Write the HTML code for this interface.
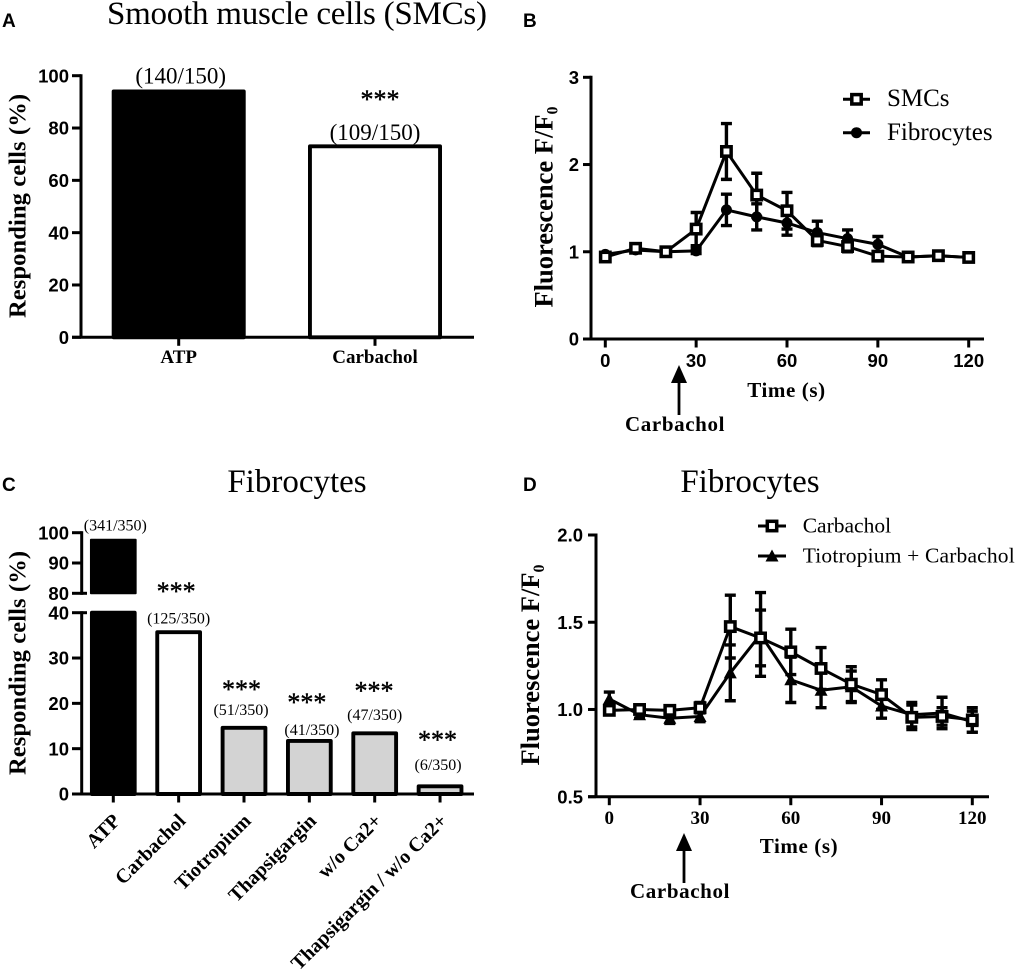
<!DOCTYPE html>
<html lang="en">
<head>
<meta charset="utf-8">
<title>Responding cells and fluorescence in SMCs and fibrocytes</title>
<style>
html,body{margin:0;padding:0;background:#fff;width:1017px;height:970px;overflow:hidden}
svg{display:block}
text{fill:#000}
.serif{font-family:"Liberation Serif",serif}
.sans{font-family:"Liberation Sans",sans-serif}
.ttl{font-family:"Liberation Serif",serif;font-size:33px}
.ylab{font-family:"Liberation Serif",serif;font-weight:bold;font-size:24.5px}
.ylabf{font-family:"Liberation Serif",serif;font-weight:bold;font-size:26.5px}
.xlab{font-family:"Liberation Serif",serif;font-weight:bold;font-size:21px;letter-spacing:.6px}
.plabel{font-family:"Liberation Sans",sans-serif;font-weight:bold;font-size:19px}
.leg{font-family:"Liberation Serif",serif}
</style>
</head>
<body>
<svg id="figure" width="1017" height="970" viewBox="0 0 1017 970" xmlns="http://www.w3.org/2000/svg">
  <g id="static-text">
    <text class="plabel" x="2" y="27">A</text>
    <text class="plabel" x="523" y="27">B</text>
    <text class="plabel" x="2" y="491">C</text>
    <text class="plabel" x="523" y="491">D</text>

    <text class="ttl" x="297" y="24" text-anchor="middle" textLength="380">Smooth muscle cells (SMCs)</text>
    <text class="ttl" x="297" y="492" text-anchor="middle">Fibrocytes</text>
    <text class="ttl" x="750" y="492" text-anchor="middle">Fibrocytes</text>

    <text class="ylab" transform="translate(25.5,206) rotate(-90)" text-anchor="middle" textLength="224">Responding cells (%)</text>
    <text class="ylab" transform="translate(25.5,663) rotate(-90)" text-anchor="middle" textLength="224">Responding cells (%)</text>
    <text class="ylabf" transform="translate(552.5,207) rotate(-90)" text-anchor="middle">Fluorescence F/F<tspan font-size="16" dy="5">0</tspan></text>
    <text class="ylabf" transform="translate(539,665) rotate(-90)" text-anchor="middle">Fluorescence F/F<tspan font-size="16" dy="5">0</tspan></text>

    <text class="xlab" x="786.5" y="397" text-anchor="middle">Time (s)</text>
    <text class="xlab" x="799" y="853" text-anchor="middle">Time (s)</text>

    <g>
      <line x1="679" y1="380" x2="679" y2="415" stroke="#000" stroke-width="2.8"></line>
      <polygon points="679,365 671,383 687,383" fill="#000"></polygon>
      <text class="xlab" x="675" y="431" text-anchor="middle" textLength="100">Carbachol</text>
    </g>
    <g>
      <line x1="684" y1="848" x2="684" y2="883" stroke="#000" stroke-width="2.8"></line>
      <polygon points="684,833 676,851 692,851" fill="#000"></polygon>
      <text class="xlab" x="680" y="898" text-anchor="middle" textLength="100">Carbachol</text>
    </g>
  </g>
  <g id="panelA"></g>
  <g id="panelB"></g>
  <g id="panelC"></g>
  <g id="panelD"></g>
</svg>
<script>
// ---- Panel A data ----
const aCategories = ['ATP', 'Carbachol'];
const aValues = [94, 73];
const aCounts = ['(140/150)', '(109/150)'];
const aStars = ['', '***'];
const aTicks = [0, 20, 40, 60, 80, 100];

// ---- Panel B data ----
const bTimes = [0, 10, 20, 30, 40, 50, 60, 70, 80, 90, 100, 110, 120];
const bTicksX = [0, 30, 60, 90, 120];
const bTicksY = [0, 1, 2, 3];
const bSmcMean = [0.94, 1.04, 1.0, 1.26, 2.15, 1.65, 1.47, 1.13, 1.06, 0.95, 0.94, 0.955, 0.935];
const bSmcErr = [0.03, 0.03, 0.02, 0.19, 0.32, 0.25, 0.21, 0.06, 0.06, 0.05, 0.02, 0.03, 0.03];
const bFibMean = [0.97, 1.02, 1.0, 1.01, 1.48, 1.40, 1.33, 1.22, 1.15, 1.085, 0.94, 0.955, 0.935];
const bFibErr = [0.02, 0.02, 0.02, 0.03, 0.18, 0.15, 0.14, 0.13, 0.10, 0.09, 0.02, 0.02, 0.02];

// ---- Panel C data ----
const cCategories = ['ATP', 'Carbachol', 'Tiotropium', 'Thapsigargin', 'w/o Ca2+', 'Thapsigargin / w/o Ca2+'];
const cValues = [98, 35.7, 14.6, 11.7, 13.4, 1.7];
const cCounts = ['(341/350)', '(125/350)', '(51/350)', '(41/350)', '(47/350)', '(6/350)'];
const cTicksLower = [0, 10, 20, 30, 40];
const cTicksUpper = [80, 90, 100];

// ---- Panel D data ----
const dTimes = [0, 10, 20, 30, 40, 50, 60, 70, 80, 90, 100, 110, 120];
const dTicksX = [0, 30, 60, 90, 120];
const dTicksY = [0.5, 1.0, 1.5, 2.0];
const dCarbMean = [0.995, 1.0, 0.995, 1.01, 1.475, 1.41, 1.33, 1.235, 1.145, 1.085, 0.955, 0.96, 0.94];
const dCarbErr = [0.02, 0.02, 0.02, 0.03, 0.18, 0.16, 0.13, 0.12, 0.10, 0.085, 0.07, 0.05, 0.07];
const dTioMean = [1.06, 0.97, 0.95, 0.96, 1.21, 1.43, 1.17, 1.11, 1.13, 1.02, 0.97, 0.98, 0.93];
const dTioErr = [0.04, 0.02, 0.03, 0.03, 0.16, 0.24, 0.13, 0.10, 0.09, 0.07, 0.07, 0.09, 0.06];

const NS = 'http://www.w3.org/2000/svg';
function svgEl(parent, tag, attrs, content) {
  const node = document.createElementNS(NS, tag);
  for (const k in attrs) node.setAttribute(k, attrs[k]);
  if (content !== undefined) node.textContent = content;
  parent.appendChild(node);
  return node;
}
function seg(parent, x1, y1, x2, y2, w) {
  return svgEl(parent, 'line', {x1: x1, y1: y1, x2: x2, y2: y2, stroke: '#000', 'stroke-width': w});
}
function drawMarker(parent, kind, x, y) {
  if (kind === 'square') {
    return svgEl(parent, 'rect', {x: x - 4.7, y: y - 4.7, width: 9.4, height: 9.4, fill: '#fff', stroke: '#000', 'stroke-width': 3.5});
  }
  if (kind === 'circle') {
    return svgEl(parent, 'circle', {cx: x, cy: y, r: 5.5, fill: '#000'});
  }
  return svgEl(parent, 'polygon', {points: (x) + ',' + (y - 6.5) + ' ' + (x - 6.5) + ',' + (y + 5.5) + ' ' + (x + 6.5) + ',' + (y + 5.5), fill: '#000'});
}
function linearScale(d0, d1, r0, r1) {
  return function (v) { return r0 + (v - d0) * (r1 - r0) / (d1 - d0); };
}

function drawSeries(parent, name, xs, means, errs, xFn, yFn, kind) {
  const group = svgEl(parent, 'g', {});
  
  
  const pts = xs.map(function (t, i) { return xFn(t) + ',' + yFn(means[i]); }).join(' ');
  const path = svgEl(group, 'polyline', {points: pts, fill: 'none', stroke: '#000', 'stroke-width': 3});
  
  
  xs.forEach(function (t, i) {
    const x = xFn(t);
    const top = yFn(means[i] + errs[i]);
    const bot = yFn(means[i] - errs[i]);
    const eb = svgEl(group, 'path', {d: 'M' + x + ' ' + top + 'V' + bot + 'M' + (x - 5.5) + ' ' + top + 'H' + (x + 5.5) + 'M' + (x - 5.5) + ' ' + bot + 'H' + (x + 5.5), fill: 'none', stroke: '#000', 'stroke-width': 3.4});
    
    
  });
  xs.forEach(function (t, i) {
    const m = drawMarker(group, kind, xFn(t), yFn(means[i]));
    
    
  });
}

function drawBars(parent, name, cats, vals, centers, width, yFn, fills, baseY) {
  cats.forEach(function (c, i) {
    const outerL = centers(i) - width / 2;
    const sw = 3.9;
    const top = yFn(vals[i]);
    const fill = fills[i];
    const bar = svgEl(parent, 'rect', {x: outerL + sw / 2, y: top, width: width - sw, height: baseY - top, fill: fill, stroke: '#000', 'stroke-width': sw, 'stroke-linejoin': 'round'});
    
    
  });
}

function tickLabel(parent, x, y, str, anchor, fam, size, extra) {
  const attrs = {x: x, y: y, 'text-anchor': anchor, 'font-family': fam, 'font-size': size, 'font-weight': 'bold'};
  for (const k in (extra || {})) attrs[k] = extra[k];
  return svgEl(parent, 'text', attrs, str);
}

const SANS = '"Liberation Sans", sans-serif';
const SERIF = '"Liberation Serif", serif';

/* ---------- Panel A ---------- */
(function () {
  const root = document.getElementById('panelA');
  const yA = linearScale(0, 100, 337.3, 75.7);
  const centers = function (i) { return 178.7 + i * 196.3; };
  const axisX = 81;
  const countLift = [8, 6.5];
  drawBars(root, 'panel-a', aCategories, aValues, centers, 134, yA, ['#000', '#fff'], yA(0));
  const xAxis = seg(root, 72, yA(0), 474, yA(0), 3);
  
  
  const yAxis = seg(root, axisX, yA(0) + 1, axisX, yA(100) - 1.5, 3);
  
  
  aTicks.forEach(function (t) {
    const tk = seg(root, 72, yA(t), axisX, yA(t), 3);
    
    
    const lb = tickLabel(root, 69, yA(t) + 6.6, String(t), 'end', SANS, 18.5);
    
    
  });
  aCategories.forEach(function (c, i) {
    const x = centers(i);
    const tk = seg(root, x, yA(0), x, yA(0) + 8.5, 3);
    
    
    const lb = tickLabel(root, x, 363, c, 'middle', SERIF, 19);
    
    
    const cnt = svgEl(root, 'text', {x: x + (i === 0 ? 2 : 0), y: yA(aValues[i]) - countLift[i], 'text-anchor': 'middle', 'font-family': SERIF, 'font-size': 23}, aCounts[i]);
    
    
    if (aStars[i]) {
      const st = svgEl(root, 'text', {x: x + 5, y: 108, 'text-anchor': 'middle', 'font-family': SERIF, 'font-size': 26, stroke: '#000', 'stroke-width': 0.4}, aStars[i]);
      
      
    }
  });
})();

/* ---------- line chart shared axes ---------- */
function drawLineAxes(root, name, xFn, yFn, ticksX, ticksY, axisX, x0, x1, yMin, yMax, yFmt, labelX, xLabelY, xFam, xSize, ySize) {
  const xAxis = seg(root, x0, yFn(yMin), x1, yFn(yMin), 3);
  
  
  const yAxis = seg(root, axisX, yFn(yMin) + 1, axisX, yFn(yMax) - 1.5, 3);
  
  
  ticksY.forEach(function (t) {
    const tk = seg(root, x0, yFn(t), axisX, yFn(t), 3);
    
    
    const lb = tickLabel(root, labelX, yFn(t) + 6.6, yFmt(t), 'end', SANS, ySize);
    
    
  });
  ticksX.forEach(function (t) {
    const x = xFn(t);
    const tk = seg(root, x, yFn(yMin), x, yFn(yMin) + 8.5, 3);
    
    
    const lb = tickLabel(root, x, xLabelY, String(t), 'middle', xFam, xSize);
    
    
  });
}

/* ---------- Panel B ---------- */
(function () {
  const root = document.getElementById('panelB');
  const xB = linearScale(0, 120, 605.3, 968.7);
  const yB = linearScale(0, 3, 339, 77.3);
  drawLineAxes(root, 'panel-b', xB, yB, bTicksX, bTicksY, 591, 583, 984, 0, 3, String, 579, 367, SANS, 18.5, 18.5);
  drawSeries(root, 'fibrocytes', bTimes, bFibMean, bFibErr, xB, yB, 'circle');
  drawSeries(root, 'smcs', bTimes, bSmcMean, bSmcErr, xB, yB, 'square');

  const legS = svgEl(root, 'g', {});
  
  
  seg(legS, 843, 99.3, 870, 99.3, 3);
  drawMarker(legS, 'square', 856.5, 99.3);
  svgEl(legS, 'text', {x: 887, y: 106, 'font-family': SERIF, 'font-size': 25}, 'SMCs');
  const legF = svgEl(root, 'g', {});
  
  
  seg(legF, 843, 132.7, 870, 132.7, 3);
  drawMarker(legF, 'circle', 856.5, 132.7);
  svgEl(legF, 'text', {x: 887, y: 140, 'font-family': SERIF, 'font-size': 25}, 'Fibrocytes');
})();

/* ---------- Panel C ---------- */
(function () {
  const root = document.getElementById('panelC');
  const yLow = linearScale(0, 40, 794, 612.7);
  const yHigh = linearScale(80, 100, 593.3, 532.7);
  const yC = function (v) { return v >= 80 ? yHigh(v) : yLow(Math.min(v, 40)); };
  const centers = function (i) { return 113.3 + i * 65.35; };
  const axisX = 81.7;
  const fills = cValues.map(function (v, i) { return i === 0 ? '#000' : (i === 1 ? '#fff' : '#d3d3d3'); });
  // Upper (broken) part of any bar above the axis break
  cValues.forEach(function (v, i) {
    if (v >= 80) {
      const w = 46.7;
      const up = svgEl(root, 'rect', {x: centers(i) - w / 2 + 1, y: yC(v) + 1, width: w - 2, height: yHigh(80) - yC(v) - 1, fill: '#000', stroke: '#000', 'stroke-width': 2, 'stroke-linejoin': 'round'});
      
      
    }
  });
  drawBars(root, 'panel-c', cCategories, cValues.map(function (v) { return Math.min(v, 40); }), centers, 46.7, yLow, fills, yLow(0));
  const xAxis = seg(root, 72, yLow(0), 474, yLow(0), 3);
  
  
  const yAxisLow = seg(root, axisX, yLow(0) + 1, axisX, yLow(40) - 1.5, 3);
  
  
  const yAxisHigh = seg(root, axisX, yHigh(80) + 1.5, axisX, yHigh(100) - 1.5, 3);
  
  
  cTicksLower.forEach(function (t) {
    const tk = seg(root, 72, yLow(t), t === 40 ? 87 : axisX, yLow(t), 3);
    
    
    const lb = tickLabel(root, 69, yLow(t) + 6.6, String(t), 'end', SANS, 18.5);
    
    
  });
  cTicksUpper.forEach(function (t) {
    const tk = seg(root, 72, yHigh(t), t === 80 ? 87 : axisX, yHigh(t), 3);
    
    
    const lb = tickLabel(root, 69, yHigh(t) + 6.6, String(t), 'end', SANS, 18.5);
    
    
  });
  cCategories.forEach(function (c, i) {
    const x = centers(i);
    const tk = seg(root, x, yLow(0), x, yLow(0) + 8.5, 3);
    
    
    const lb = tickLabel(root, 0, 0, c, 'end', SERIF, 20, {transform: 'translate(' + (x + 8) + ',822) rotate(-45)'});
    
    
  });
  const countNudge = [2, 0, -3, 2.6, 0, -2];
  const countLift = [8.5, 8.9, 12.8, 6, 13.3, 16.3];
  cCategories.forEach(function (c, i) {
    const cnt = svgEl(root, 'text', {x: centers(i) + countNudge[i], y: yC(cValues[i]) - countLift[i], 'text-anchor': 'middle', 'font-family': SERIF, 'font-size': 16}, cCounts[i]);
    
    
  });
  const starLift = [0, 32, 30, 30, 34, 38];
  cCategories.forEach(function (c, i) {
    if (i === 0) return;
    const st = svgEl(root, 'text', {x: centers(i) - (i === 4 ? 0.7 : 2.5), y: yC(cValues[i]) - starLift[i], 'text-anchor': 'middle', 'font-family': SERIF, 'font-size': 26, stroke: '#000', 'stroke-width': 0.4}, '***');
    
    
  });
})();

/* ---------- Panel D ---------- */
(function () {
  const root = document.getElementById('panelD');
  const xD = linearScale(0, 120, 609.3, 972.3);
  const yD = linearScale(0.5, 2.0, 796.7, 535);
  drawLineAxes(root, 'panel-d', xD, yD, dTicksX, dTicksY, 596, 588, 989, 0.5, 2.0, function (v) { return v.toFixed(1); }, 583, 824, SERIF, 19, 18.5);
  drawSeries(root, 'tiotropium-carbachol', dTimes, dTioMean, dTioErr, xD, yD, 'triangle');
  drawSeries(root, 'carbachol', dTimes, dCarbMean, dCarbErr, xD, yD, 'square');

  const legC = svgEl(root, 'g', {});
  
  
  seg(legC, 758, 526, 786, 526, 3);
  drawMarker(legC, 'square', 772, 526);
  svgEl(legC, 'text', {x: 802.7, y: 532.5, 'font-family': SERIF, 'font-size': 21.5}, 'Carbachol');
  const legT = svgEl(root, 'g', {});
  
  
  seg(legT, 758, 556, 786, 556, 3);
  drawMarker(legT, 'triangle', 772, 556);
  svgEl(legT, 'text', {x: 802.7, y: 562.7, 'font-family': SERIF, 'font-size': 21.5, textLength: 212}, 'Tiotropium + Carbachol');
})();
</script>
</body>
</html>
